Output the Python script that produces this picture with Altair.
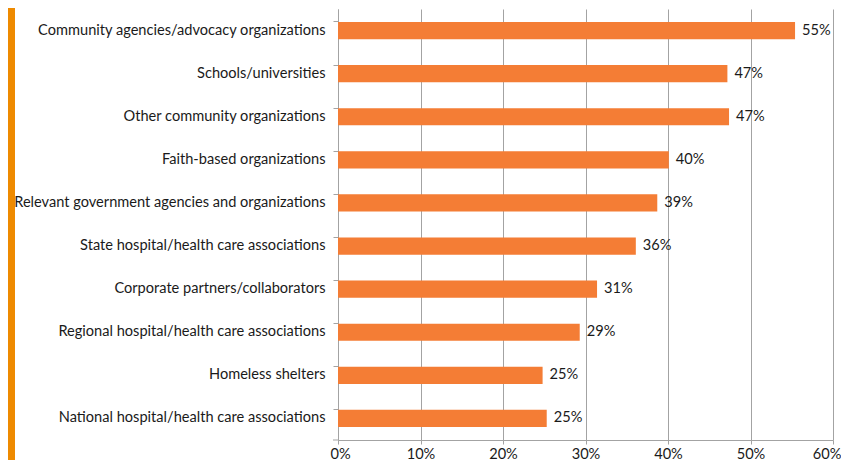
import altair as alt
import pandas as pd

categories = [
    "Community agencies/advocacy organizations",
    "Schools/universities\u00a0",
    "Other community organizations",
    "Faith-based organizations",
    "Relevant government agencies and organizations",
    "State hospital/health care associations",
    "Corporate partners/collaborators",
    "Regional hospital/health care associations",
    "Homeless shelters",
    "National hospital/health care associations",
]
values = [55.4, 47.2, 47.4, 40.1, 38.7, 36.1, 31.4, 29.3, 24.8, 25.3]
value_labels = ["55%", "47%", "47%", "40%", "39%", "36%", "31%", "29%", "25%", "25%"]
x_ticks = [0, 10, 20, 30, 40, 50, 60]

df = pd.DataFrame({"cat": categories, "val": values, "lab": value_labels})

FONT = "Lato"
FS = 14.6
GRAY = "#A3A3A3"
ORANGE = "#F47D35"

y_enc = alt.Y(
    "cat:N",
    sort=None,
    title=None,
    scale=alt.Scale(paddingInner=0.6, paddingOuter=0.3),
    axis=alt.Axis(
        bandPosition=0,
        tickSize=5,
        tickColor=GRAY,
        domainColor=GRAY,
        labelPadding=8,
        labelFontSize=FS,
        labelFont=FONT,
        labelColor="#1a1a1a",
        labelLimit=0,
    ),
)
x_enc = alt.X(
    "val:Q",
    title=None,
    scale=alt.Scale(domain=[0, 60], nice=False),
    axis=alt.Axis(
        values=x_ticks,
        labelExpr="datum.value + '%'",
        labelFlush=True,
        labelFlushOffset=8,
        grid=True,
        gridColor=GRAY,
        domainColor=GRAY,
        tickColor=GRAY,
        tickSize=4,
        labelFontSize=FS,
        labelFont=FONT,
        labelColor="#1a1a1a",
        labelPadding=2,
    ),
)

bars = alt.Chart(df).mark_bar(color=ORANGE).encode(x=x_enc, y=y_enc)
text = alt.Chart(df).mark_text(
    align="left", baseline="middle", dx=7, fontSize=FS, font=FONT, color="#1a1a1a"
).encode(x="val:Q", y=alt.Y("cat:N", sort=None), text="lab:N")

one = pd.DataFrame({"a": [0]})
strip = alt.Chart(one).mark_rect(color="#EE8A00").encode(
    x=alt.value(-330), x2=alt.value(-323), y=alt.value(-1), y2=alt.value(451)
)
bottom_tick = alt.Chart(one).mark_rule(color=GRAY).encode(
    x=alt.value(-5), x2=alt.value(0), y=alt.value(431)
)

chart = (
    alt.layer(bars, text, strip, bottom_tick)
    .properties(
        width=495,
        height=431,
        autosize=alt.AutoSizeParams(type="none"),
        padding={"left": 330, "top": 1, "right": 8, "bottom": 20},
    )
    .configure_view(stroke=None)
)

chart.save("out.html", embed_options={"renderer": "svg", "actions": False})
